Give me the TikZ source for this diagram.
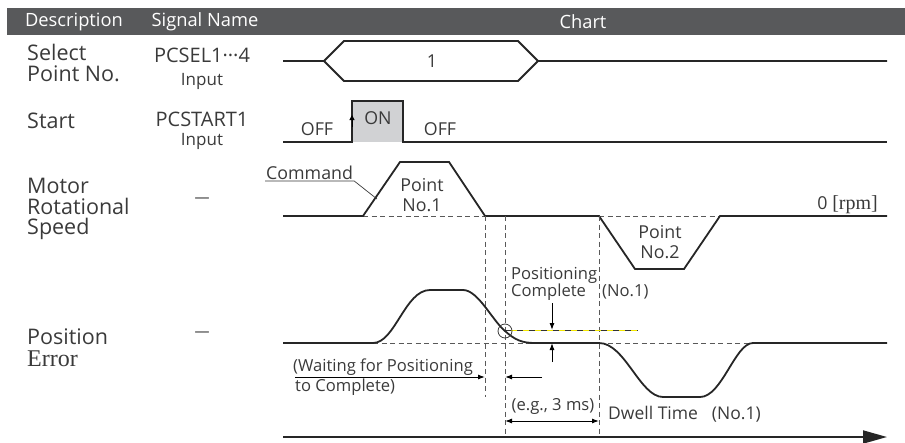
\documentclass[tikz,border=0pt]{standalone}
\usepackage{fontspec}
\setmainfont{Open Sans}
\newfontfamily\serifface{Liberation Serif}
\usetikzlibrary{arrows.meta}
\definecolor{headgray}{HTML}{58595B}
\definecolor{inkgray}{HTML}{3A3A3A}
\definecolor{ongray}{HTML}{D1D2D4}
\definecolor{tolyellow}{HTML}{F2E600}

\begin{document}
\begin{tikzpicture}[
    x=1pt, y=-1pt,
    >={Latex[length=7pt,width=5pt]},
    every node/.style={text=inkgray, inner sep=0pt},
    sig/.style={line width=1.8pt, black!85},
    guide/.style={gray!70!black, line width=0.9pt, dash pattern=on 5pt off 3.5pt},
    head/.style={text=white, font=\fontsize{18.3}{19}\selectfont},
    desc/.style={anchor=west, align=left, font=\fontsize{21.5}{20.5}\selectfont},
    sname/.style={font=\fontsize{20}{20}\selectfont},
    io/.style={font=\fontsize{17}{17}\selectfont},
    chart/.style={font=\fontsize{17.8}{20}\selectfont},
    note/.style={font=\fontsize{16.6}{17}\selectfont},
]
\useasboundingbox (0,0) rectangle (905,442);
% header bar
\fill[headgray] (7,8) rectangle (905,35);
\node[head] (hdesc) at (74,22) {Description};
\node[head] (hsig) at (205,22) {Signal Name};
\node[head] (hchart) at (583,22) {Chart};
% left columns
\node[desc] (dsel) at (27,63) {Select\\Point No.};
\node[sname] (ssel) at (202,55) {PCSEL1···4};
\node[io] (isel) at (202,81) {Input};
\node[desc] (dstart) at (27,121) {Start};
\node[sname] (sstart) at (202,119) {PCSTART1};
\node[io] (istart) at (202,141) {Input};
\node[desc, font=\fontsize{21.5}{20.5}\selectfont] (dspeed) at (27,209) {Motor\\Rotational\\Speed};
\node[sname, font=\fontsize{15}{15}\selectfont] (sspeed) at (202,200) {—};
\node[desc, font=\fontsize{21.5}{22}\selectfont] (derr) at (27,348) {Position\\{\fontsize{24}{22}\serifface Error}};
\node[sname, font=\fontsize{15}{15}\selectfont] (serr) at (202,334) {—};
% select point no.
\draw[sig] (283,61) -- (324,61) -- (344,41) -- (518,41) -- (538,61) -- (887,61);
\draw[sig] (324,61) -- (344,81) -- (518,81) -- (538,61);
\node[chart] (pno) at (432,61) {1};
% start pulse
\fill[ongray] (352,101) rectangle (403,142);
\draw[sig] (283,142) -- (352,142) -- (352,101) -- (403,101) -- (403,142) -- (887,142);
\draw[-{Triangle[length=5pt,width=5pt]}, line width=1pt] (352,127) -- (352,115);
\node[chart] (off1) at (317,129) {OFF};
\node[chart] (on) at (378,118) {ON};
\node[chart] (off2) at (440,129) {OFF};
% motor speed
\draw[guide] (363,216) -- (485,216);
\draw[guide] (599,216) -- (720,216);
\draw[sig] (283,216) -- (363,216) -- (400,162) -- (449,162) -- (485,216) -- (599,216)
    -- (635,269) -- (684,269) -- (720,216) -- (887,216);
\node[chart, align=center] (pt1) at (422,195) {Point\\No.1};
\node[chart, align=center] (pt2) at (660,242) {Point\\No.2};
\node[chart, anchor=east] (rpm) at (878,205) {0 {\fontsize{20}{20}\serifface[rpm]}};
\node[chart, anchor=south west, inner sep=1pt] (cmd) at (265,181) {Command};
\coordinate (cmdedge) at (377,199);
\draw[inkgray, line width=0.7pt] (cmd.south west) -- (cmd.south east) -- (cmdedge);
% timing guides
\draw[guide] (485,216) -- (485,397);
\draw[guide] (505,216) -- (505,437);
\draw[guide] (599,216) -- (599,437);
% position error
\draw[guide] (373,343) -- (535,343);
\draw[guide] (599,343) -- (753,343);
\draw[tolyellow, line width=1pt] (505,330) -- (638,330);
\draw[black!80, line width=1pt, dash pattern=on 6pt off 6pt] (505,330) -- (638,330);
\draw[sig] (283,343) -- (373,343) .. controls (395,343) and (405,290) .. (430,290) -- (463,290)
    .. controls (478,290) and (492,320) .. (505,331) .. controls (515,340) and (522,343) .. (535,343)
    -- (599,343) .. controls (625,343) and (640,397) .. (663,397) -- (700,397)
    .. controls (722,397) and (735,343) .. (753,343) -- (887,343);
\draw[inkgray, line width=0.8pt] (505,331) circle (7pt);
\coordinate (bandtop) at (552,330);
\coordinate (bandbot) at (552,343);
\draw[->, line width=1pt] (552,303) -- (bandtop);
\draw[->, line width=1pt] (552,362) -- (bandbot);
\node[note, anchor=west, align=left] (pcomp) at (511,284) {Positioning\\Complete};
\node[note, anchor=west] (pcno) at (602,292) {(No.1)};
% waiting / dwell annotations
\node[note, anchor=west] (wait1) at (293,367) {(Waiting for Positioning};
\node[note, anchor=west] (wait2) at (295,387) {to Complete)};
\coordinate (waitstart) at (295,377);
\coordinate (waitend) at (485,377);
\draw[->, line width=1pt] (waitstart) -- (waitend);
\coordinate (pcfrom) at (542,377);
\coordinate (pcstart) at (505,377);
\draw[->, line width=1pt] (pcfrom) -- (pcstart);
\node[note] (eg) at (553,406) {(e.g., 3 ms)};
\coordinate (dwellA) at (505,421);
\coordinate (dwellB) at (599,421);
\draw[<->, line width=1pt] (dwellA) -- (dwellB);
\node[note, font=\fontsize{17.5}{17}\selectfont, anchor=west] (dwell) at (608,414) {Dwell Time\hspace{14pt}(No.1)};
% time axis
\draw[line width=1.8pt, black!85, -{Triangle[length=24pt,width=13pt]}] (283,437) -- (887,437);
\end{tikzpicture}
\end{document}
